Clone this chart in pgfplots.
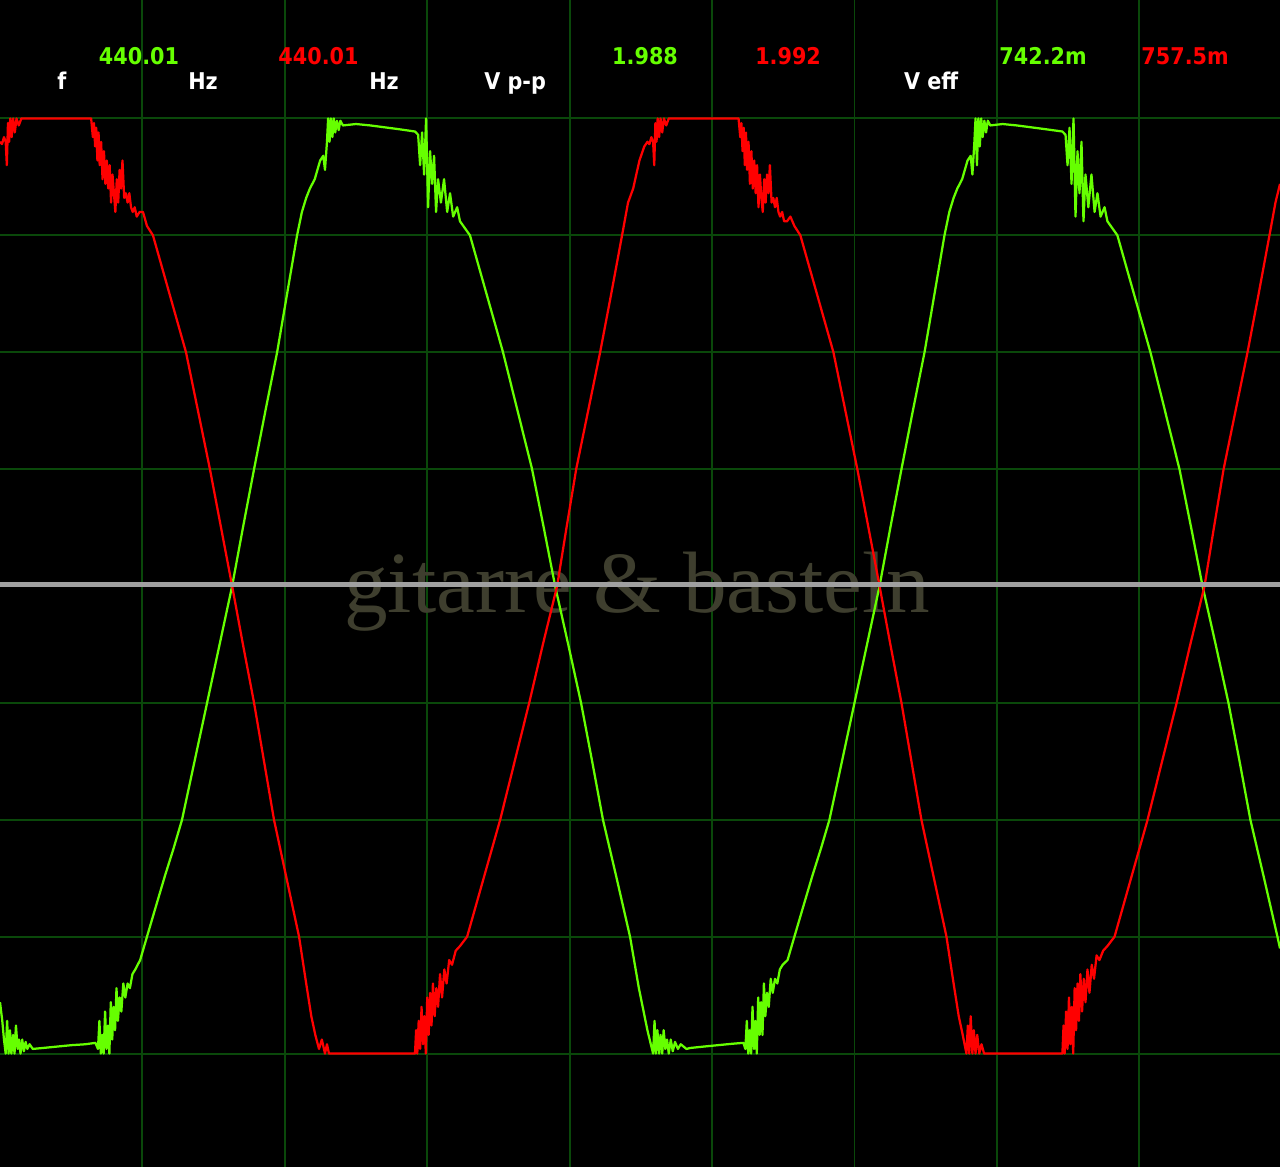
\documentclass[border=0pt]{standalone}
\usepackage{pgfplots}
\pgfplotsset{compat=1.18}
\usepackage{fontspec}
\setmainfont{DejaVu Sans}[FakeStretch=0.9]
\newfontfamily\wmfont{Liberation Serif}

\definecolor{gridgreen}{RGB}{10,72,10}
\definecolor{chA}{RGB}{102,255,0}
\definecolor{chB}{RGB}{255,0,0}
\definecolor{zeroline}{RGB}{160,160,160}
\definecolor{watermark}{RGB}{62,62,46}

\begin{document}
\begin{tikzpicture}
\begin{axis}[
    name=scope,
    scale only axis,
    width=16cm, height=14.5875cm,
    xmin=0, xmax=4.494,
    ymin=-1.2425, ymax=1.2533,
    axis background/.style={fill=black},
    axis line style={draw=none},
    xtick={0.5,1,1.5,2,2.5,3,3.5,4},
    ytick={-1,-0.75,-0.5,-0.25,0,0.25,0.5,0.75,1},
    xticklabels={}, yticklabels={},
    major tick length=0pt,
    grid=major,
    major grid style={color=gridgreen, line width=0.7pt},
    every axis plot/.append style={line width=0.8pt, line join=round, no markers, sharp plot},
]

% watermark
\node[anchor=base, text=watermark, font=\wmfont\fontsize{31}{31}\selectfont]
    at (axis cs:2.237,-0.0556) {gitarre \& basteln};

% channel A (green), time in ms, voltage in V
\addplot[color=chA] coordinates {
(0.000,-0.89) (0.008,-0.93) (0.014,-0.97) (0.020,-1.00) (0.025,-0.93) (0.030,-1.00)
(0.035,-0.95) (0.040,-1.00) (0.046,-0.96) (0.051,-1.00) (0.056,-0.94) (0.062,-0.99)
(0.067,-0.97) (0.072,-1.00) (0.078,-0.97) (0.084,-0.995) (0.090,-0.975) (0.096,-0.99)
(0.104,-0.98) (0.115,-0.99) (0.150,-0.988) (0.200,-0.985) (0.250,-0.982) (0.300,-0.980)
(0.335,-0.977) (0.344,-0.99) (0.349,-0.93) (0.354,-1.00) (0.359,-0.96) (0.364,-1.00)
(0.369,-0.91) (0.374,-0.99) (0.379,-0.94) (0.384,-1.00) (0.389,-0.89) (0.394,-0.97)
(0.399,-0.90) (0.404,-0.95) (0.409,-0.86) (0.414,-0.93) (0.420,-0.88) (0.426,-0.91)
(0.433,-0.85) (0.440,-0.88) (0.448,-0.85) (0.456,-0.86) (0.465,-0.83) (0.475,-0.82)
(0.492,-0.80) (0.516,-0.75) (0.545,-0.69) (0.579,-0.62) (0.610,-0.56) (0.639,-0.50)
(0.683,-0.375) (0.727,-0.25) (0.771,-0.125) (0.815,0) (0.853,0.125) (0.892,0.25)
(0.932,0.375) (0.973,0.5) (1.008,0.625) (1.043,0.75) (1.060,0.80) (1.075,0.83)
(1.088,0.85) (1.105,0.87) (1.124,0.91) (1.135,0.92) (1.141,0.89) (1.148,0.95)
(1.152,1.00) (1.157,0.95) (1.162,1.00) (1.167,0.96) (1.172,1.00) (1.177,0.97)
(1.183,0.995) (1.189,0.975) (1.195,0.995) (1.204,0.985) (1.250,0.988) (1.300,0.985)
(1.350,0.981) (1.400,0.977) (1.457,0.972) (1.468,0.965) (1.475,0.90) (1.482,0.97)
(1.489,0.88) (1.496,1.00) (1.503,0.81) (1.510,0.93) (1.517,0.86) (1.524,0.92)
(1.531,0.80) (1.538,0.87) (1.548,0.82) (1.559,0.87) (1.570,0.80) (1.580,0.84)
(1.591,0.79) (1.605,0.81) (1.615,0.78) (1.650,0.75) (1.708,0.625) (1.766,0.5)
(1.817,0.375) (1.868,0.25) (1.909,0.125) (1.949,0) (1.995,-0.125) (2.040,-0.25)
(2.079,-0.375) (2.117,-0.5) (2.165,-0.625) (2.212,-0.75) (2.243,-0.86) (2.273,-0.95)
(2.293,-1.00) (2.298,-0.93) (2.303,-1.00) (2.308,-0.95) (2.314,-1.00) (2.319,-0.96)
(2.325,-1.00) (2.330,-0.95) (2.336,-0.99) (2.342,-0.97) (2.348,-1.00) (2.355,-0.97)
(2.362,-0.995) (2.370,-0.975) (2.380,-0.99) (2.390,-0.98) (2.410,-0.99) (2.423,-0.988)
(2.470,-0.985) (2.520,-0.982) (2.570,-0.979) (2.610,-0.977) (2.617,-0.99) (2.622,-0.93)
(2.627,-1.00) (2.632,-0.95) (2.637,-1.00) (2.642,-0.90) (2.647,-0.99) (2.652,-0.93)
(2.657,-1.00) (2.662,-0.88) (2.667,-0.96) (2.672,-0.89) (2.677,-0.96) (2.682,-0.85)
(2.687,-0.92) (2.693,-0.87) (2.699,-0.90) (2.706,-0.84) (2.713,-0.87) (2.721,-0.84)
(2.729,-0.85) (2.738,-0.82) (2.748,-0.81) (2.765,-0.80) (2.789,-0.75) (2.818,-0.69)
(2.852,-0.62) (2.883,-0.56) (2.912,-0.50) (2.956,-0.375) (3.000,-0.25) (3.044,-0.125)
(3.088,0) (3.126,0.125) (3.165,0.25) (3.205,0.375) (3.246,0.5) (3.281,0.625)
(3.316,0.75) (3.333,0.80) (3.348,0.83) (3.361,0.85) (3.378,0.87) (3.397,0.91)
(3.408,0.92) (3.414,0.88) (3.421,0.95) (3.425,1.00) (3.430,0.90) (3.435,1.00)
(3.440,0.94) (3.445,1.00) (3.450,0.96) (3.456,0.995) (3.462,0.97) (3.468,0.995)
(3.477,0.985) (3.520,0.988) (3.570,0.985) (3.620,0.981) (3.670,0.977) (3.730,0.972)
(3.741,0.965) (3.748,0.90) (3.755,0.98) (3.762,0.86) (3.769,1.00) (3.776,0.79)
(3.783,0.93) (3.790,0.84) (3.797,0.95) (3.804,0.78) (3.811,0.88) (3.821,0.81)
(3.832,0.88) (3.843,0.80) (3.853,0.84) (3.864,0.79) (3.878,0.81) (3.888,0.78)
(3.923,0.75) (3.981,0.625) (4.039,0.5) (4.090,0.375) (4.141,0.25) (4.182,0.125)
(4.222,0) (4.268,-0.125) (4.313,-0.25) (4.352,-0.375) (4.390,-0.5) (4.438,-0.625)
(4.485,-0.75) (4.494,-0.775)
};

% channel B (red)
\addplot[color=chB] coordinates {
(0.000,0.95) (0.007,0.945) (0.014,0.96) (0.020,0.95) (0.024,0.90) (0.028,0.99)
(0.032,0.95) (0.036,1.00) (0.041,0.96) (0.046,1.00) (0.052,0.97) (0.058,1.00)
(0.066,0.985) (0.075,1.00) (0.320,1.00) (0.326,0.96) (0.330,0.99) (0.334,0.94)
(0.338,0.98) (0.342,0.91) (0.346,0.97) (0.350,0.90) (0.355,0.95) (0.360,0.87)
(0.365,0.93) (0.370,0.86) (0.375,0.91) (0.380,0.85) (0.385,0.90) (0.390,0.82)
(0.395,0.88) (0.400,0.84) (0.405,0.80) (0.410,0.87) (0.415,0.82) (0.420,0.89)
(0.425,0.85) (0.430,0.91) (0.436,0.83) (0.442,0.84) (0.448,0.82) (0.454,0.84)
(0.460,0.81) (0.466,0.80) (0.473,0.81) (0.480,0.79) (0.490,0.80) (0.502,0.80)
(0.516,0.77) (0.537,0.75) (0.595,0.625) (0.653,0.5) (0.695,0.375) (0.737,0.25)
(0.776,0.125) (0.815,0) (0.853,-0.125) (0.892,-0.25) (0.927,-0.375) (0.962,-0.5)
(1.006,-0.625) (1.050,-0.75) (1.075,-0.85) (1.093,-0.92) (1.107,-0.96) (1.120,-0.99)
(1.130,-0.97) (1.141,-1.00) (1.148,-0.98) (1.155,-1.00) (1.457,-1.00) (1.461,-0.95)
(1.465,-1.00) (1.470,-0.93) (1.475,-0.99) (1.480,-0.90) (1.485,-0.98) (1.490,-0.92)
(1.495,-1.00) (1.500,-0.88) (1.505,-0.96) (1.510,-0.87) (1.515,-0.94) (1.520,-0.85)
(1.526,-0.92) (1.532,-0.86) (1.538,-0.90) (1.545,-0.83) (1.552,-0.88) (1.560,-0.82)
(1.568,-0.85) (1.577,-0.80) (1.587,-0.81) (1.600,-0.78) (1.615,-0.77) (1.640,-0.75)
(1.698,-0.625) (1.756,-0.5) (1.807,-0.375) (1.858,-0.25) (1.906,-0.125) (1.956,0)
(1.989,0.125) (2.023,0.25) (2.065,0.375) (2.107,0.5) (2.146,0.625) (2.184,0.75)
(2.205,0.82) (2.223,0.85) (2.245,0.91) (2.262,0.94) (2.273,0.95) (2.280,0.945)
(2.287,0.96) (2.293,0.95) (2.297,0.90) (2.301,0.99) (2.305,0.95) (2.309,1.00)
(2.314,0.96) (2.319,1.00) (2.325,0.97) (2.331,1.00) (2.339,0.985) (2.348,1.00)
(2.593,1.00) (2.599,0.96) (2.603,0.99) (2.607,0.93) (2.611,0.98) (2.615,0.90)
(2.619,0.97) (2.623,0.89) (2.628,0.95) (2.633,0.86) (2.638,0.93) (2.643,0.85)
(2.648,0.91) (2.653,0.84) (2.658,0.90) (2.663,0.81) (2.668,0.88) (2.673,0.83)
(2.678,0.80) (2.683,0.87) (2.688,0.82) (2.693,0.88) (2.698,0.84) (2.703,0.90)
(2.709,0.82) (2.715,0.83) (2.721,0.81) (2.727,0.83) (2.733,0.80) (2.739,0.79)
(2.746,0.80) (2.753,0.78) (2.763,0.78) (2.775,0.79) (2.789,0.77) (2.810,0.75)
(2.868,0.625) (2.926,0.5) (2.968,0.375) (3.010,0.25) (3.049,0.125) (3.088,0)
(3.126,-0.125) (3.165,-0.25) (3.200,-0.375) (3.235,-0.5) (3.279,-0.625) (3.323,-0.75)
(3.348,-0.85) (3.366,-0.92) (3.380,-0.96) (3.393,-1.00) (3.398,-0.94) (3.403,-1.00)
(3.408,-0.92) (3.414,-1.00) (3.419,-0.95) (3.425,-1.00) (3.431,-0.96) (3.438,-1.00)
(3.446,-0.98) (3.455,-1.00) (3.730,-1.00) (3.734,-0.94) (3.738,-1.00) (3.743,-0.91)
(3.748,-0.99) (3.753,-0.88) (3.758,-0.98) (3.763,-0.90) (3.768,-1.00) (3.773,-0.86)
(3.778,-0.95) (3.783,-0.85) (3.788,-0.93) (3.793,-0.83) (3.799,-0.91) (3.805,-0.84)
(3.811,-0.89) (3.818,-0.82) (3.825,-0.87) (3.833,-0.81) (3.841,-0.84) (3.850,-0.79)
(3.860,-0.80) (3.873,-0.78) (3.888,-0.77) (3.913,-0.75) (3.971,-0.625) (4.029,-0.5)
(4.080,-0.375) (4.131,-0.25) (4.179,-0.125) (4.229,0) (4.262,0.125) (4.296,0.25)
(4.338,0.375) (4.380,0.5) (4.419,0.625) (4.457,0.75) (4.478,0.82) (4.494,0.86)
};

% zero line
\draw[zeroline, line width=1.8pt] (rel axis cs:0,0.4995) -- (rel axis cs:1,0.4995);

% readouts
\begin{scope}[every node/.style={anchor=base, font=\bfseries\fontsize{8.2}{8.2}\selectfont, inner sep=0pt}]
\node[text=white] at (axis cs:0.2177,1.0629) {f};
\node[text=chA]   at (axis cs:0.4880,1.1163) {440.01};
\node[text=white] at (axis cs:0.7128,1.0629) {Hz};
\node[text=chB]   at (axis cs:1.1183,1.1163) {440.01};
\node[text=white] at (axis cs:1.3483,1.0629) {Hz};
\node[text=white] at (axis cs:1.8083,1.0629) {V p-p};
\node[text=chA]   at (axis cs:2.2647,1.1163) {1.988};
\node[text=chB]   at (axis cs:2.7669,1.1163) {1.992};
\node[text=white] at (axis cs:3.2690,1.0629) {V eff};
\node[text=chA]   at (axis cs:3.6622,1.1163) {742.2m};
\node[text=chB]   at (axis cs:4.1608,1.1163) {757.5m};
\end{scope}
\end{axis}
\pgfresetboundingbox
\path[use as bounding box] (scope.south west) rectangle (scope.north east);
\end{tikzpicture}
\end{document}
